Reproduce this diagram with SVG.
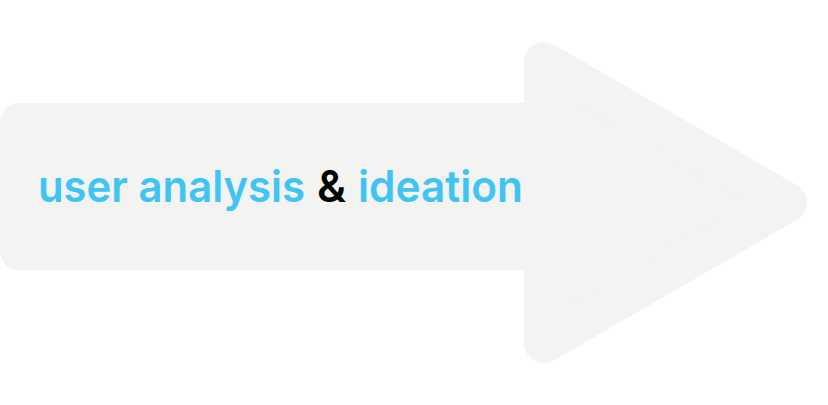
<svg xmlns="http://www.w3.org/2000/svg" width="828" height="405" viewBox="0 0 828 405">
<style>
.shape{fill:#f3f3f2;}
.head{fill:#f3f3f2;stroke:#f3f3f2;stroke-width:40;stroke-linejoin:round;}
.lbl{font-family:Inter,"Open Sans","Liberation Sans",sans-serif;font-weight:600;font-size:44px;fill:#40c4f4;}
.amp{fill:#000000;}
</style>
<rect width="828" height="405" fill="#ffffff"/>
<g id="arrow">
<rect class="shape" x="0" y="103" width="560" height="167.5" rx="20" ry="20"/>
<polygon class="head" points="544,62 544,343 787,202.5"/>
</g>
<g id="label">
<text class="lbl" x="38" y="202" textLength="267" lengthAdjust="spacingAndGlyphs">user analysis</text>
<text class="lbl amp" x="317" y="202" textLength="29" lengthAdjust="spacingAndGlyphs">&amp;</text>
<text class="lbl" x="358" y="202" textLength="165" lengthAdjust="spacingAndGlyphs">ideation</text>
</g>
</svg>
